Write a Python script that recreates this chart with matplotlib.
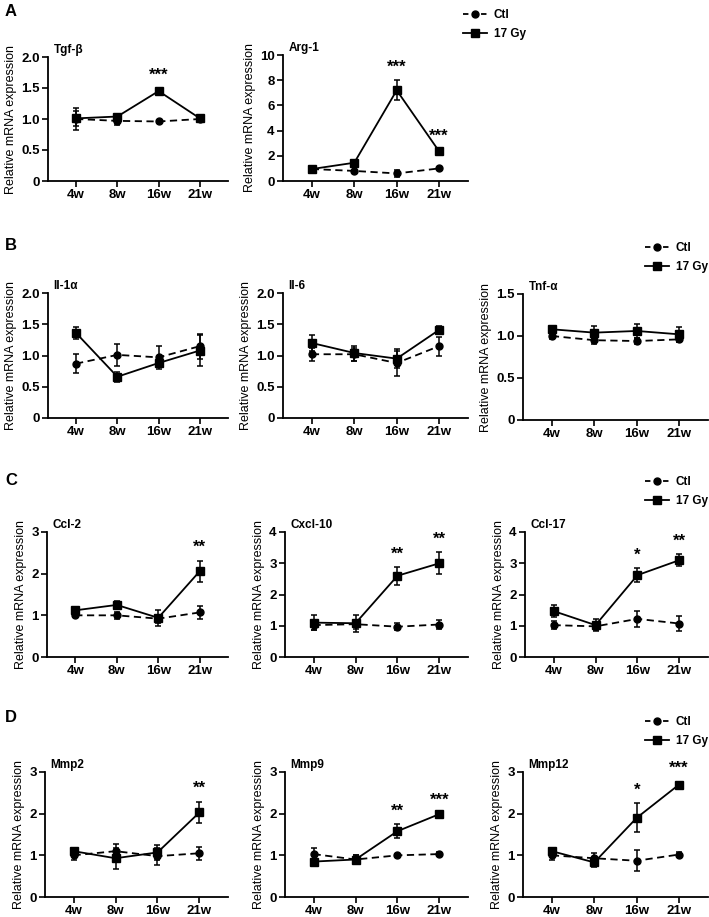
import numpy as np
import matplotlib
matplotlib.use('Agg')
import matplotlib.pyplot as plt
from matplotlib.lines import Line2D

plt.rcParams['font.family'] = ['Liberation Sans', 'DejaVu Sans']

weeks = ['4w', '8w', '16w', '21w']

# panel A
tgfb_ctl = [1.00, 0.97, 0.96, 1.00]
tgfb_ctl_err = [0.17, 0.07, 0.02, 0.03]
tgfb_gy = [1.01, 1.04, 1.45, 1.01]
tgfb_gy_err = [0.12, 0.04, 0.04, 0.03]
tgfb_sig = ['', '', '***', '']

arg1_ctl = [0.95, 0.80, 0.60, 1.00]
arg1_ctl_err = [0.08, 0.08, 0.30, 0.08]
arg1_gy = [0.95, 1.45, 7.20, 2.35]
arg1_gy_err = [0.08, 0.20, 0.80, 0.15]
arg1_sig = ['', '', '***', '***']

# panel B
il1a_ctl = [0.87, 1.01, 0.97, 1.15]
il1a_ctl_err = [0.15, 0.18, 0.18, 0.20]
il1a_gy = [1.36, 0.66, 0.88, 1.08]
il1a_gy_err = [0.10, 0.08, 0.07, 0.25]
il1a_sig = ['', '', '', '']

il6_ctl = [1.02, 1.02, 0.88, 1.15]
il6_ctl_err = [0.10, 0.10, 0.20, 0.15]
il6_gy = [1.20, 1.04, 0.95, 1.41]
il6_gy_err = [0.13, 0.12, 0.15, 0.07]
il6_sig = ['', '', '', '']

tnfa_ctl = [1.00, 0.95, 0.94, 0.96]
tnfa_ctl_err = [0.03, 0.04, 0.04, 0.03]
tnfa_gy = [1.08, 1.04, 1.06, 1.02]
tnfa_gy_err = [0.04, 0.08, 0.08, 0.09]
tnfa_sig = ['', '', '', '']

# panel C
ccl2_ctl = [1.00, 1.00, 0.92, 1.07]
ccl2_ctl_err = [0.05, 0.08, 0.10, 0.15]
ccl2_gy = [1.12, 1.25, 0.94, 2.06]
ccl2_gy_err = [0.06, 0.10, 0.20, 0.25]
ccl2_sig = ['', '', '', '**']

cxcl10_ctl = [1.02, 1.05, 0.97, 1.04]
cxcl10_ctl_err = [0.15, 0.15, 0.12, 0.15]
cxcl10_gy = [1.10, 1.08, 2.60, 3.00]
cxcl10_gy_err = [0.25, 0.28, 0.28, 0.35]
cxcl10_sig = ['', '', '**', '**']

ccl17_ctl = [1.02, 0.98, 1.22, 1.07]
ccl17_ctl_err = [0.12, 0.10, 0.25, 0.25]
ccl17_gy = [1.47, 1.02, 2.62, 3.10]
ccl17_gy_err = [0.20, 0.20, 0.22, 0.20]
ccl17_sig = ['', '', '*', '**']

# panel D
mmp2_ctl = [1.00, 1.10, 0.98, 1.05]
mmp2_ctl_err = [0.10, 0.17, 0.20, 0.15]
mmp2_gy = [1.10, 0.93, 1.07, 2.03]
mmp2_gy_err = [0.06, 0.25, 0.18, 0.26]
mmp2_sig = ['', '', '', '**']

mmp9_ctl = [1.03, 0.90, 1.00, 1.03]
mmp9_ctl_err = [0.15, 0.10, 0.03, 0.05]
mmp9_gy = [0.85, 0.90, 1.58, 1.99]
mmp9_gy_err = [0.04, 0.10, 0.17, 0.03]
mmp9_sig = ['', '', '**', '***']

mmp12_ctl = [1.00, 0.93, 0.87, 1.02]
mmp12_ctl_err = [0.10, 0.12, 0.25, 0.05]
mmp12_gy = [1.10, 0.83, 1.90, 2.70]
mmp12_gy_err = [0.06, 0.10, 0.35, 0.07]
mmp12_sig = ['', '', '*', '***']

W, H = 709, 917
fig = plt.figure(figsize=(W / 100, H / 100), dpi=100)


def px_axes(left, top, right, bottom):
    return fig.add_axes([left / W, 1 - bottom / H, (right - left) / W, (bottom - top) / H])


def draw_panel(ax, title, ctl, ctl_err, gy, gy_err, sig, ymax, ystep):
    x = np.arange(len(weeks))
    ax.errorbar(x, ctl, yerr=ctl_err, color='black', ls='--', dashes=(4, 2.5), marker='o', ms=5,
                lw=1.3, capsize=2.5, elinewidth=1.1, capthick=1.1, clip_on=False)
    ax.errorbar(x, gy, yerr=gy_err, color='black', ls='-', marker='s', ms=5.5,
                lw=1.3, capsize=2.5, elinewidth=1.1, capthick=1.1, clip_on=False)
    for i, s in enumerate(sig):
        if s:
            ax.annotate(s, (x[i], gy[i] + gy_err[i]), xytext=(0, 4), textcoords='offset points',
                        ha='center', va='bottom', fontsize=12, fontweight='bold')
    ax.set_xlim(-0.68, 3.68)
    ax.set_ylim(0, ymax)
    ticks = np.arange(0, ymax + ystep / 2, ystep)
    ax.set_yticks(ticks)
    labels = []
    for v in ticks:
        if v == 0:
            labels.append('0')
        elif ystep < 1:
            labels.append(f'{v:.1f}')
        else:
            labels.append(f'{v:.0f}')
    ax.set_yticklabels(labels)
    ax.set_xticks(x)
    ax.set_xticklabels(weeks)
    for lab in ax.get_xticklabels() + ax.get_yticklabels():
        lab.set_fontweight('bold')
    ax.tick_params(labelsize=9.5, width=1.2, length=4, pad=2)
    ax.spines['top'].set_visible(False)
    ax.spines['right'].set_visible(False)
    ax.spines['left'].set_linewidth(1.3)
    ax.spines['bottom'].set_linewidth(1.3)
    ax.set_ylabel('Relative mRNA expression', fontsize=9, labelpad=3)
    ax.text(0.03, 1.01, title, transform=ax.transAxes, ha='left', va='bottom',
            fontsize=8.5, fontweight='bold')


def add_legend(left, top):
    handles = [
        Line2D([], [], color='black', ls='--', dashes=(3, 2), marker='o', ms=5, lw=1.3),
        Line2D([], [], color='black', ls='-', marker='s', ms=5.5, lw=1.3),
    ]
    fig.legend(handles, ['Ctl', '17 Gy'], loc='upper left', bbox_to_anchor=(left / W, 1 - top / H),
               frameon=False, prop={'weight': 'bold', 'size': 8.5}, handlelength=2.0,
               handletextpad=0.6, labelspacing=0.6, borderpad=0, borderaxespad=0)


# row A
ax = px_axes(48, 57, 228, 181)
draw_panel(ax, 'Tgf-β', tgfb_ctl, tgfb_ctl_err, tgfb_gy, tgfb_gy_err, tgfb_sig, 2.0, 0.5)
ax = px_axes(283, 55, 468, 181)
draw_panel(ax, 'Arg-1', arg1_ctl, arg1_ctl_err, arg1_gy, arg1_gy_err, arg1_sig, 10, 2)
add_legend(463, 9)

# row B
ax = px_axes(48, 293, 228, 418)
draw_panel(ax, 'Il-1α', il1a_ctl, il1a_ctl_err, il1a_gy, il1a_gy_err, il1a_sig, 2.0, 0.5)
ax = px_axes(283, 293, 468, 418)
draw_panel(ax, 'Il-6', il6_ctl, il6_ctl_err, il6_gy, il6_gy_err, il6_sig, 2.0, 0.5)
ax = px_axes(523, 294, 708, 420)
draw_panel(ax, 'Tnf-α', tnfa_ctl, tnfa_ctl_err, tnfa_gy, tnfa_gy_err, tnfa_sig, 1.5, 0.5)
add_legend(645, 242)

# row C
ax = px_axes(47, 532, 228, 657)
draw_panel(ax, 'Ccl-2', ccl2_ctl, ccl2_ctl_err, ccl2_gy, ccl2_gy_err, ccl2_sig, 3, 1)
ax = px_axes(285, 532, 468, 657)
draw_panel(ax, 'Cxcl-10', cxcl10_ctl, cxcl10_ctl_err, cxcl10_gy, cxcl10_gy_err, cxcl10_sig, 4, 1)
ax = px_axes(525, 532, 708, 657)
draw_panel(ax, 'Ccl-17', ccl17_ctl, ccl17_ctl_err, ccl17_gy, ccl17_gy_err, ccl17_sig, 4, 1)
add_legend(645, 476)

# row D
ax = px_axes(45, 772, 228, 897)
draw_panel(ax, 'Mmp2', mmp2_ctl, mmp2_ctl_err, mmp2_gy, mmp2_gy_err, mmp2_sig, 3, 1)
ax = px_axes(285, 772, 468, 897)
draw_panel(ax, 'Mmp9', mmp9_ctl, mmp9_ctl_err, mmp9_gy, mmp9_gy_err, mmp9_sig, 3, 1)
ax = px_axes(523, 772, 708, 897)
draw_panel(ax, 'Mmp12', mmp12_ctl, mmp12_ctl_err, mmp12_gy, mmp12_gy_err, mmp12_sig, 3, 1)
add_legend(645, 716)

for letter, y in [('A', 12), ('B', 245), ('C', 480), ('D', 718)]:
    fig.text(5 / W, 1 - y / H, letter, fontsize=12, fontweight='bold', va='center', ha='left')

fig.savefig('out.png', dpi=100)
